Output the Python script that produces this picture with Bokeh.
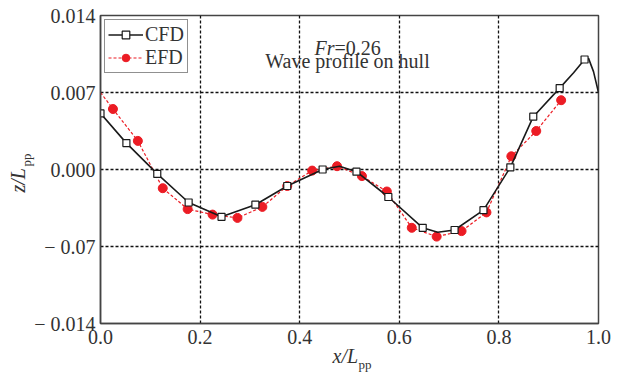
from bokeh.plotting import figure
from bokeh.models import Label, Legend, LegendItem, FixedTicker, Title
from bokeh.embed import file_html
from bokeh.resources import INLINE

# ---------------- data ----------------
cfd_x = [0.0, 0.052, 0.114, 0.177, 0.243, 0.311, 0.375, 0.446, 0.514, 0.578,
         0.647, 0.711, 0.769, 0.823, 0.869, 0.922, 0.972]
cfd_z = [0.0051, 0.0024, -0.0004, -0.0030, -0.0043, -0.0032, -0.0015, 0.0000,
         -0.0002, -0.0025, -0.0053, -0.0055, -0.0037, 0.0002, 0.0048, 0.0074, 0.0100]

# CFD curve (markers plus extra points)
cfd_line_x = [0.0, 0.052, 0.114, 0.177, 0.243, 0.311, 0.375, 0.446, 0.48, 0.514,
              0.578, 0.647, 0.677, 0.711, 0.769, 0.823, 0.869, 0.922, 0.95, 0.972,
              0.98, 0.99, 1.0]
cfd_line_z = [0.0051, 0.0024, -0.0004, -0.0030, -0.0043, -0.0032, -0.0015, 0.0000,
              0.0003, -0.0002, -0.0025, -0.0053, -0.0057, -0.0055, -0.0037, 0.0002,
              0.0048, 0.0074, 0.0088, 0.0100, 0.0101, 0.0089, 0.0070]

efd_x = [0.0, 0.025, 0.075, 0.125, 0.175, 0.225, 0.275, 0.325, 0.375, 0.425,
         0.475, 0.525, 0.575, 0.625, 0.675, 0.725, 0.775, 0.825, 0.875, 0.925]
efd_z = [0.0070, 0.0055, 0.0026, -0.0017, -0.0036, -0.0041, -0.0044, -0.0034,
         -0.0015, -0.0001, 0.0003, -0.0006, -0.0020, -0.0053, -0.0061, -0.0056,
         -0.0039, 0.0012, 0.0035, 0.0063]

x_ticks = [0.0, 0.2, 0.4, 0.6, 0.8, 1.0]
x_tick_labels = ["0.0", "0.2", "0.4", "0.6", "0.8", "1.0"]
y_ticks = [-0.014, -0.007, 0.0, 0.007, 0.014]
y_tick_labels = ["\u2212 0.014", "\u2212 0.07", "0.000", "0.007", "0.014"]

title_fr = "Fr"
title_fr_value = "=0.26"
title_text = "Wave profile on hull"

FONT = "Liberation Serif"
RED = "#ec1c24"
BLACK = "#1a1a1a"
TXT = "#333333"

p = figure(width=618, height=378, x_range=(0, 1), y_range=(-0.014, 0.014),
           output_backend="svg", toolbar_location=None,
           min_border_left=100, min_border_right=20, min_border_top=15,
           min_border_bottom=55)
p.background_fill_color = "white"
p.border_fill_color = "white"
p.outline_line_color = "#444444"
p.outline_line_width = 1.5

# axes
for ax in (p.xaxis[0], p.yaxis[0]):
    ax.axis_line_color = "#444444"
    ax.axis_line_width = 1.5
    ax.major_tick_line_color = None
    ax.minor_tick_line_color = None
    ax.major_tick_out = 0
    ax.major_tick_in = 0
    ax.minor_tick_out = 0
    ax.minor_tick_in = 0
    ax.major_label_text_font = FONT
    ax.major_label_text_font_size = "20px"
    ax.major_label_text_color = TXT

p.xaxis.ticker = FixedTicker(ticks=x_ticks)
p.xaxis.major_label_overrides = {t: l for t, l in zip(x_ticks, x_tick_labels)}
p.xaxis.major_label_standoff = 6
p.yaxis.ticker = FixedTicker(ticks=y_ticks)
p.yaxis.major_label_overrides = {t: l for t, l in zip(y_ticks, y_tick_labels)}
p.yaxis.major_label_standoff = 5

# grid (interior lines only)
p.xgrid.ticker = FixedTicker(ticks=x_ticks[1:-1])
p.ygrid.ticker = FixedTicker(ticks=y_ticks[1:-1])
for g in (p.xgrid[0], p.ygrid[0]):
    g.grid_line_color = "#111111"
    g.grid_line_dash = "3 2"
    g.grid_line_width = 1.3

# EFD
efd_line = p.line(efd_x, efd_z, line_color=RED, line_width=1.2, line_dash="3 2")
efd_pts = p.scatter(efd_x[1:], efd_z[1:], marker="circle", size=9,
                    fill_color=RED, line_color=RED)

# CFD
cfd_line = p.line(cfd_line_x, cfd_line_z, line_color=BLACK, line_width=1.6)
cfd_pts = p.scatter(cfd_x, cfd_z, marker="square", size=7, fill_color="white",
                    line_color=BLACK, line_width=1.2)

legend = Legend(items=[LegendItem(label="CFD", renderers=[cfd_line, cfd_pts]),
                       LegendItem(label="EFD", renderers=[efd_line, efd_pts])],
                location=(4, 250), margin=0, padding=3, spacing=0,
                glyph_width=35, glyph_height=19, label_height=19,
                label_standoff=2, label_text_font=FONT,
                label_text_font_size="20px", label_text_color=TXT,
                border_line_color="#222222", border_line_width=1.5,
                background_fill_color="white", background_fill_alpha=1)
p.add_layout(legend)

# helpers: pixel -> data (inside the frame)
def dx(px):
    return (px - 100) / 498.0

def dy(py):
    return 0.014 - (py - 15) * 0.028 / 308.0

# annotation texts inside the frame
p.add_layout(Label(x=dx(334), y=dy(47), text=title_fr, text_align="right",
                   text_baseline="alphabetic",
                   text_font=FONT, text_font_style="italic",
                   text_font_size="20px", text_color=TXT))
p.add_layout(Label(x=dx(334), y=dy(47), text=title_fr_value, text_align="left",
                   text_baseline="alphabetic",
                   text_font=FONT, text_font_size="20px", text_color=TXT))
p.add_layout(Label(x=dx(347), y=dy(60), text=title_text, text_align="center",
                   text_baseline="alphabetic",
                   text_font=FONT, text_font_size="20px", text_color=TXT))

# y axis label  z/L_pp  (two titles in the left panel; first is nearest the axis)
p.add_layout(Title(text="pp", align="left", vertical_align="bottom",
                   offset=157, standoff=-4, text_font=FONT,
                   text_font_style="normal", text_font_size="13px",
                   text_color=TXT), "left")
p.add_layout(Title(text="z/L", align="left", vertical_align="bottom",
                   offset=131, standoff=-20, text_font=FONT,
                   text_font_style="italic", text_font_size="20px",
                   text_color=TXT), "left")

# x axis label  x/L_pp  (two titles in the bottom panel)
p.add_layout(Title(text="x/L", align="left", vertical_align="bottom",
                   offset=232, standoff=-8, text_font=FONT,
                   text_font_style="italic", text_font_size="20px",
                   text_color=TXT), "below")
p.add_layout(Title(text="pp", align="left", vertical_align="bottom",
                   offset=258, standoff=-16, text_font=FONT,
                   text_font_style="normal", text_font_size="13px",
                   text_color=TXT), "below")

open("out.html", "w").write(file_html(p, INLINE))
